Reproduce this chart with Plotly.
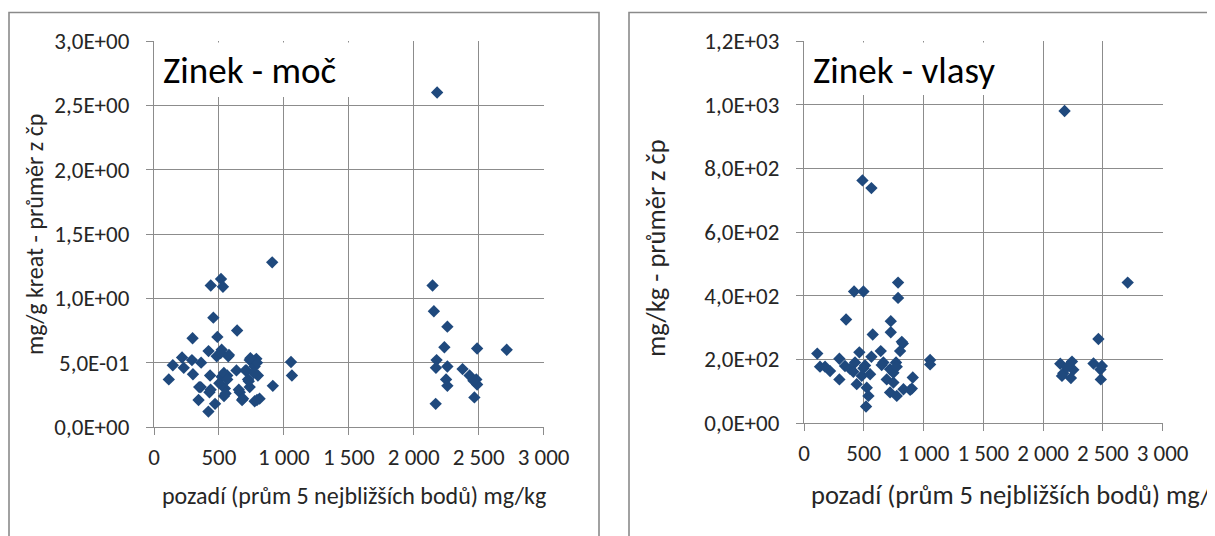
import plotly.graph_objects as go

# ---------------- data ----------------
# Left chart: Zinek - moč
moc_x = [910, 437, 516, 531, 457, 640, 297, 488, 420, 521, 483, 572, 145, 216, 292, 363,
         229, 300, 114, 432, 348, 343, 427, 419, 470, 521, 564, 503, 546, 539, 635, 737,
         788, 712, 775, 800, 724, 737, 661, 686, 775, 813, 915, 1055, 1062, 513, 577, 538,
         564, 704, 768, 793, 742, 730, 653, 551, 436, 678, 793, 360,
         2180, 2145, 2155, 2259, 2236, 2488, 2716, 2176, 2171, 2259, 2376, 2430, 2482,
         2488, 2249, 2259, 2467, 2169, 2460]
moc_y = [1.28, 1.10, 1.15, 1.09, 0.85, 0.75, 0.69, 0.70, 0.59, 0.60, 0.55, 0.55, 0.48, 0.54,
         0.52, 0.50, 0.46, 0.41, 0.37, 0.40, 0.31, 0.21, 0.27, 0.12, 0.18, 0.39, 0.40, 0.34,
         0.30, 0.24, 0.44, 0.52, 0.53, 0.44, 0.47, 0.40, 0.37, 0.31, 0.27, 0.22, 0.20, 0.22,
         0.32, 0.505, 0.40, 0.575, 0.56, 0.42, 0.37, 0.44, 0.42, 0.50, 0.535, 0.355, 0.29,
         0.26, 0.29, 0.21, 0.21, 0.31,
         2.60, 1.10, 0.90, 0.78, 0.62, 0.61, 0.60, 0.52, 0.46, 0.47, 0.45, 0.40, 0.37,
         0.33, 0.37, 0.32, 0.23, 0.18, 0.36]

# Right chart: Zinek - vlasy
vlasy_x = [489, 564, 419, 497, 787, 787, 352, 726, 726, 575, 827, 804, 642, 463, 564, 111,
           134, 218, 296, 296, 343, 427, 441, 511, 483, 553, 525, 539, 519, 664, 720, 770,
           692, 748, 720, 776, 832, 902, 910, 1055, 1055, 748, 385, 818, 650, 776, 413, 497,
           888, 176,
           2180, 2708, 2463, 2422, 2492, 2483, 2144, 2242, 2169, 2253, 2158, 2233, 2200, 2480]
vlasy_y = [762, 738, 413, 413, 441, 393, 325, 320, 285, 278, 250, 226, 226, 222, 208, 218,
           177, 163, 202, 137, 179, 190, 122, 181, 148, 153, 111, 85, 52, 190, 169, 190,
           137, 127, 96, 85, 106, 108, 143, 198, 184, 158, 170, 255, 182, 177, 161, 172,
           104, 177,
           980, 441, 264, 187, 179, 137, 186, 193, 156, 167, 148, 141, 175, 168]

x_ticks = [0, 500, 1000, 1500, 2000, 2500, 3000]
x_tick_labels = ["0", "500", "1 000", "1 500", "2 000", "2 500", "3 000"]
moc_y_ticks = [0, 0.5, 1.0, 1.5, 2.0, 2.5, 3.0]
moc_y_labels = ["0,0E+00", "5,0E-01", "1,0E+00", "1,5E+00", "2,0E+00", "2,5E+00", "3,0E+00"]
vlasy_y_ticks = [0, 200, 400, 600, 800, 1000, 1200]
vlasy_y_labels = ["0,0E+00", "2,0E+02", "4,0E+02", "6,0E+02", "8,0E+02", "1,0E+03", "1,2E+03"]

# ---------------- layout helpers ----------------
W, H = 1215, 536
OFF = 8  # page body margin shifts the figure by 8 px
FONT = "Carlito, Lato, sans-serif"
TXT = "#262626"
GRID = "#8c8c8c"
MARK = "#1F497D"
TICK_SIZE = 23


def px_x(p):
    return (p - OFF) / W


def px_y(p):
    return 1 - (p - OFF) / H


fig = go.Figure()
fig.add_trace(go.Scatter(x=moc_x, y=moc_y, mode="markers", xaxis="x", yaxis="y",
                         marker=dict(symbol="diamond", size=9.5, color=MARK),
                         showlegend=False))
fig.add_trace(go.Scatter(x=vlasy_x, y=vlasy_y, mode="markers", xaxis="x2", yaxis="y2",
                         marker=dict(symbol="diamond", size=9.5, color=MARK),
                         showlegend=False))


def xaxis(domain, anchor):
    return dict(domain=domain, anchor=anchor, range=[0, 3000], tickvals=x_ticks,
                ticktext=x_tick_labels, showgrid=True, gridcolor=GRID, gridwidth=1,
                showline=True, linecolor=GRID, linewidth=1, ticks="outside", ticklen=7,
                tickcolor=GRID, zeroline=False, fixedrange=True, automargin=False,
                tickfont=dict(family=FONT, size=TICK_SIZE, color=TXT), ticklabelstandoff=2)


def yaxis(domain, anchor, rng, vals, labels):
    return dict(domain=domain, anchor=anchor, range=rng, tickvals=vals, ticktext=labels,
                showgrid=True, gridcolor=GRID, gridwidth=1, showline=True, linecolor=GRID,
                linewidth=1, ticks="outside", ticklen=7, tickcolor=GRID, zeroline=False,
                fixedrange=True, automargin=False,
                tickfont=dict(family=FONT, size=TICK_SIZE, color=TXT),
                ticklabelstandoff=12)


L = dict(x0=154, x1=543.6, y0=41, y1=427)
R = dict(x0=804, x1=1162.6, y0=41, y1=423)

fig.update_layout(
    width=W, height=H, autosize=False,
    margin=dict(l=0, r=0, t=0, b=0, pad=0, autoexpand=False),
    paper_bgcolor="white", plot_bgcolor="white",
    xaxis=xaxis([px_x(L["x0"]), px_x(L["x1"])], "y"),
    yaxis=yaxis([px_y(L["y1"]), px_y(L["y0"])], "x", [0, 3.0], moc_y_ticks, moc_y_labels),
    xaxis2=xaxis([px_x(R["x0"]), px_x(R["x1"])], "y2"),
    yaxis2=yaxis([px_y(R["y1"]), px_y(R["y0"])], "x2", [0, 1200], vlasy_y_ticks, vlasy_y_labels),
)

shapes = [
    # chart frames
    dict(type="rect", xref="paper", yref="paper", x0=px_x(9), x1=px_x(599),
         y0=-0.2, y1=px_y(12.5), line=dict(color="#8a8a8a", width=1.6), layer="below"),
    dict(type="rect", xref="paper", yref="paper", x0=px_x(629), x1=1.2,
         y0=-0.2, y1=px_y(12.5), line=dict(color="#8a8a8a", width=1.6), layer="below"),
    # white boxes behind in-plot titles
    dict(type="rect", xref="paper", yref="paper", x0=px_x(155.5), x1=px_x(380),
         y0=px_y(97), y1=px_y(42.5), fillcolor="white", line=dict(width=0), layer="above"),
    dict(type="rect", xref="paper", yref="paper", x0=px_x(805.5), x1=px_x(1010),
         y0=px_y(95), y1=px_y(42.5), fillcolor="white", line=dict(width=0), layer="above"),
]

annotations = [
    dict(text="Zinek - moč", xref="paper", yref="paper", x=px_x(161), y=px_y(70),
         xanchor="left", yanchor="middle", showarrow=False,
         font=dict(family=FONT, size=37, color="#000000")),
    dict(text="Zinek - vlasy", xref="paper", yref="paper", x=px_x(811), y=px_y(70),
         xanchor="left", yanchor="middle", showarrow=False,
         font=dict(family=FONT, size=37, color="#000000")),
    dict(text="mg/g kreat - průměr z čp", xref="paper", yref="paper", x=px_x(34),
         y=px_y(235), xanchor="center", yanchor="middle", textangle=-90, showarrow=False,
         font=dict(family=FONT, size=24, color=TXT)),
    dict(text="mg/kg - průměr z čp", xref="paper", yref="paper", x=px_x(656),
         y=px_y(248), xanchor="center", yanchor="middle", textangle=-90, showarrow=False,
         font=dict(family=FONT, size=26.5, color=TXT)),
    dict(text="pozadí (prům 5 nejbližších bodů) mg/kg", xref="paper", yref="paper",
         x=px_x(354), y=px_y(495), xanchor="center", yanchor="middle", showarrow=False,
         font=dict(family=FONT, size=24, color=TXT)),
    dict(text="pozadí (prům 5 nejbližších bodů) mg/kg", xref="paper", yref="paper",
         x=px_x(809), y=px_y(495), xanchor="left", yanchor="middle", showarrow=False,
         font=dict(family=FONT, size=26.5, color=TXT)),
]

fig.update_layout(shapes=shapes, annotations=annotations)
fig.write_html("out.html")
